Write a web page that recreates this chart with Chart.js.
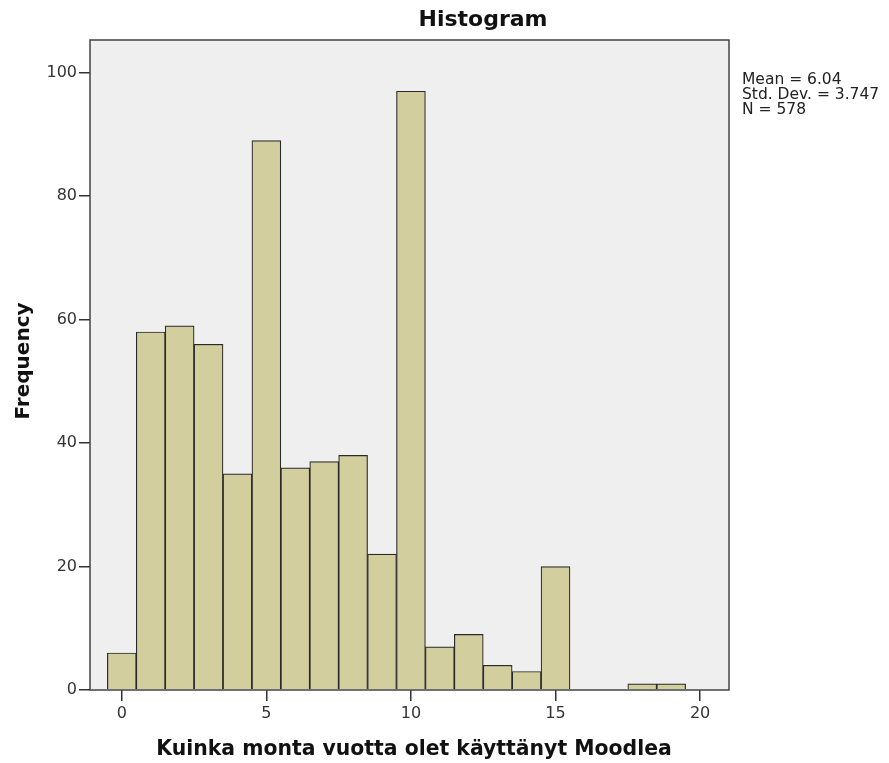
<!DOCTYPE html>
<html lang="fi">
<head>
  <meta charset="UTF-8" />
  <title>Histogram</title>
  <script src="https://cdn.jsdelivr.net/npm/chart.js@4.4.1/dist/chart.umd.min.js"></script>
  <style>
    body { margin: 0; background: #ffffff; }
    #wrap { width: 889px; height: 763px; }
  </style>
</head>
<body>
  <div id="wrap"><canvas id="hist" width="889" height="763"></canvas></div>
<script>
  // bin centres (years) and counts
  const binCentres = [0, 1, 2, 3, 4, 5, 6, 7, 8, 9, 10, 11, 12, 13, 14, 15, 16, 17, 18, 19];
  const counts     = [6, 58, 59, 56, 35, 89, 36, 37, 38, 22, 97, 7, 9, 4, 3, 20, 0, 0, 1, 1];
  const xTicks = [0, 5, 10, 15, 20];
  const yTicks = [0, 20, 40, 60, 80, 100];
  const statsLines = ['Mean = 6.04', 'Std. Dev. = 3.747', 'N = 578'];

  const FONT = "'DejaVu Sans', sans-serif";

  const frame = {
    id: 'frame',
    beforeDraw(chart) {
      const { ctx, chartArea: a } = chart;
      ctx.save();
      ctx.fillStyle = '#efefef';
      ctx.fillRect(a.left, a.top, a.right - a.left, a.bottom - a.top);
      ctx.restore();
    },
    afterDraw(chart) {
      const { ctx, chartArea: a } = chart;
      ctx.save();
      ctx.strokeStyle = '#444';
      ctx.lineWidth = 1.5;
      ctx.strokeRect(a.left, a.top, a.right - a.left, a.bottom - a.top);

      ctx.fillStyle = '#111';
      ctx.textAlign = 'center';
      ctx.textBaseline = 'middle';
      ctx.font = 'bold 22px ' + FONT;
      ctx.fillText('Histogram', 483, 20);
      ctx.font = 'bold 20.4px ' + FONT;
      ctx.fillText('Kuinka monta vuotta olet käyttänyt Moodlea', 414, 750);

      ctx.save();
      ctx.translate(24, 361);
      ctx.rotate(-Math.PI / 2);
      ctx.font = 'bold 20px ' + FONT;
      ctx.fillText('Frequency', 0, 0);
      ctx.restore();

      ctx.textAlign = 'left';
      ctx.font = '15.5px ' + FONT;
      ctx.fillStyle = '#222';
      statsLines.forEach((t, i) => ctx.fillText(t, 742, 80 + i * 15));
      ctx.restore();
    }
  };

  new Chart(document.getElementById('hist'), {
    type: 'bar',
    data: {
      datasets: [{
        data: binCentres.map((x, i) => ({ x: x, y: counts[i] })),
        backgroundColor: '#d2ce9e',
        borderColor: '#2a2a2a',
        borderWidth: 1.2,
        barPercentage: 1,
        categoryPercentage: 1
      }]
    },
    options: {
      responsive: false,
      animation: false,
      layout: { padding: { top: 40, right: 160, bottom: 0, left: 0 } },
      plugins: { legend: { display: false }, tooltip: { enabled: false } },
      scales: {
        x: {
          type: 'linear',
          offset: false,
          min: -1.1,
          max: 21.0,
          afterBuildTicks: s => { s.ticks = xTicks.map(v => ({ value: v })); },
          afterFit: s => { s.height = 73; },
          grid: { display: true, offset: false, drawOnChartArea: false, drawTicks: true, tickLength: 11, color: '#333', lineWidth: 1.5 },
          border: { display: false },
          ticks: { color: '#333', font: { family: FONT, size: 16 }, padding: 3, maxRotation: 0 }
        },
        y: {
          min: 0,
          max: 105.3,
          afterBuildTicks: s => { s.ticks = yTicks.map(v => ({ value: v })); },
          afterFit: s => { s.width = 90; },
          grid: { display: true, drawOnChartArea: false, drawTicks: true, tickLength: 11, color: '#333', lineWidth: 1.5 },
          border: { display: false },
          ticks: { color: '#333', font: { family: FONT, size: 16 }, padding: 2 }
        }
      }
    },
    plugins: [frame]
  });
</script>
</body>
</html>
